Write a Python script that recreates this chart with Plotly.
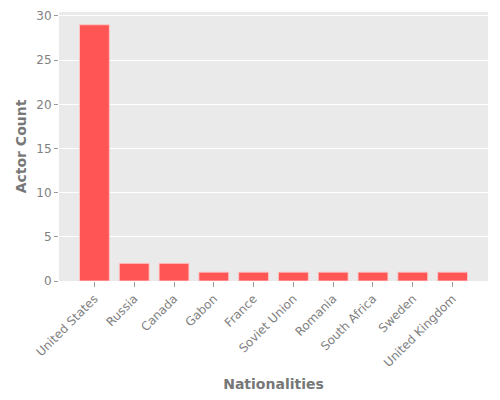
import plotly.graph_objects as go

nationalities = ["United States", "Russia", "Canada", "Gabon", "France",
                 "Soviet Union", "Romania", "South Africa", "Sweden", "United Kingdom"]
actor_counts = [29, 2, 2, 1, 1, 1, 1, 1, 1, 1]

fig = go.Figure()
fig.add_trace(go.Bar(
  x=list(range(len(nationalities))), y=actor_counts, width=0.75,
  marker=dict(color="#FF5555", line=dict(color="rgba(255,200,200,0.9)", width=1)),
))

# page has an 8px body margin, so the figure is a bit smaller than the window
fig.update_layout(
  width=484, height=384,
  margin=dict(l=51, r=4, t=4, b=111, autoexpand=False),
  paper_bgcolor="white", plot_bgcolor="#EAEAEA",
  font=dict(family="DejaVu Sans", color="#808080", size=12),
  showlegend=False,
)
fig.update_xaxes(
  tickmode="array", tickvals=list(range(len(nationalities))), ticktext=nationalities,
  range=[-0.89, 9.89], tickangle=-45, showgrid=False, zeroline=False,
  ticks="outside", ticklen=5, tickcolor="#999999", automargin=False,
  title=dict(text="<b>Nationalities</b>", font=dict(size=14, color="#777777"), standoff=17),
)
fig.update_yaxes(
  range=[0, 30.45], tickvals=[0, 5, 10, 15, 20, 25, 30],
  gridcolor="white", gridwidth=1, zeroline=False,
  ticks="outside", ticklen=4, tickcolor="#999999", automargin=False,
  title=dict(text="<b>Actor Count</b>", font=dict(size=14, color="#777777"), standoff=6),
)

fig.write_html("out.html")
